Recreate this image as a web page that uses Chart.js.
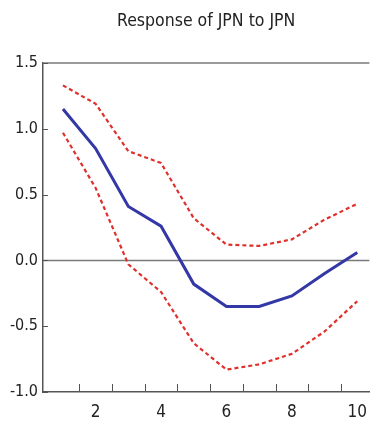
<!DOCTYPE html>
<html>
<head>
<meta charset="utf-8">
<script src="https://cdn.jsdelivr.net/npm/chart.js@4"></script>
<style>
  html, body { margin: 0; padding: 0; background: #fff; }
  canvas { display: block; }
</style>
</head>
<body>
<canvas id="irfChart" width="377" height="427"></canvas>
<script>
// data
const periods = [1, 2, 3, 4, 5, 6, 7, 8, 9, 10];
const response = [1.15, 0.85, 0.41, 0.26, -0.18, -0.35, -0.35, -0.27, -0.10, 0.06];
const upperBand = [1.33, 1.19, 0.83, 0.74, 0.32, 0.12, 0.11, 0.16, 0.31, 0.43];
const lowerBand = [0.97, 0.55, -0.03, -0.24, -0.63, -0.83, -0.79, -0.71, -0.54, -0.31];
const xLabels = [2, 4, 6, 8, 10];
const xTickMarks = [1.5, 2.5, 3.5, 4.5, 5.5, 6.5, 7.5, 8.5, 9.5];
const yTicks = [-1.0, -0.5, 0.0, 0.5, 1.0, 1.5];
const chartTitle = 'Response of JPN to JPN';

const FONT = '"Liberation Sans Narrow", "Arial Narrow", "DejaVu Sans Condensed", sans-serif';
const toPoints = arr => periods.map((p, i) => ({ x: p, y: arr[i] }));

// frame top line, zero line, inward tick marks, title
const framePlugin = {
    id: 'frame',
    beforeDatasetsDraw(chart) {
        const { ctx, chartArea: a, scales: { y } } = chart;
        ctx.save();
        ctx.strokeStyle = '#7a7a7a';
        ctx.lineWidth = 1.5;
        ctx.beginPath();
        ctx.moveTo(a.left, y.getPixelForValue(0));
        ctx.lineTo(a.right, y.getPixelForValue(0));
        ctx.stroke();
        ctx.restore();
    },
    afterDraw(chart) {
        const { ctx, chartArea: a, scales: { x, y } } = chart;
        ctx.save();
        ctx.strokeStyle = '#9a9a9a';
        ctx.lineWidth = 2;
        ctx.beginPath();
        ctx.moveTo(a.left, a.top);
        ctx.lineTo(a.right, a.top);
        ctx.stroke();

        ctx.strokeStyle = '#555';
        ctx.lineWidth = 1;
        ctx.beginPath();
        xTickMarks.forEach(v => {
            const px = Math.round(x.getPixelForValue(v)) + 0.5;
            ctx.moveTo(px, a.bottom);
            ctx.lineTo(px, a.bottom - 8);
        });
        yTicks.forEach(v => {
            const py = Math.round(y.getPixelForValue(v)) + 0.5;
            ctx.moveTo(a.left, py);
            ctx.lineTo(a.left + 5, py);
        });
        ctx.stroke();

        ctx.fillStyle = '#222';
        ctx.font = '17.5px ' + FONT;
        ctx.textAlign = 'center';
        ctx.textBaseline = 'middle';
        ctx.fillText(chartTitle, (a.left + a.right) / 2, 21);
        ctx.restore();
    }
};

new Chart(document.getElementById('irfChart'), {
    type: 'line',
    data: {
        datasets: [
            {
                label: 'Upper',
                data: toPoints(upperBand),
                borderColor: '#e0302c',
                borderWidth: 2.2,
                borderDash: [4, 3],
                pointRadius: 0,
                tension: 0,
                fill: false
            },
            {
                label: 'Lower',
                data: toPoints(lowerBand),
                borderColor: '#e0302c',
                borderWidth: 2.2,
                borderDash: [4, 3],
                pointRadius: 0,
                tension: 0,
                fill: false
            },
            {
                label: 'Response',
                data: toPoints(response),
                borderColor: '#3438a6',
                borderWidth: 3,
                pointRadius: 0,
                tension: 0,
                fill: false
            }
        ]
    },
    options: {
        responsive: false,
        animation: false,
        devicePixelRatio: 1,
        layout: { padding: { top: 63, left: 0, right: 0, bottom: 0 } },
        plugins: { legend: { display: false }, tooltip: { enabled: false }, title: { display: false } },
        scales: {
            x: {
                type: 'linear',
                min: 0.39,
                max: 10.37,
                afterBuildTicks: s => { s.ticks = xLabels.map(v => ({ value: v })); },
                afterFit: s => { s.height = 35; },
                grid: { display: false, drawTicks: false },
                border: { display: true, color: '#555', width: 1.5 },
                ticks: {
                    padding: 10,
                    color: '#222',
                    font: { family: FONT, size: 17 },
                    maxRotation: 0,
                    autoSkip: false
                }
            },
            y: {
                min: -1,
                max: 1.5,
                afterBuildTicks: s => { s.ticks = yTicks.map(v => ({ value: v })); },
                afterFit: s => { s.width = 43; },
                grid: { display: false, drawTicks: false },
                border: { display: true, color: '#555', width: 1.5 },
                ticks: {
                    padding: 5,
                    color: '#222',
                    font: { family: FONT, size: 16 },
                    callback: v => v.toFixed(1)
                }
            }
        }
    },
    plugins: [framePlugin]
});
</script>
</body>
</html>
